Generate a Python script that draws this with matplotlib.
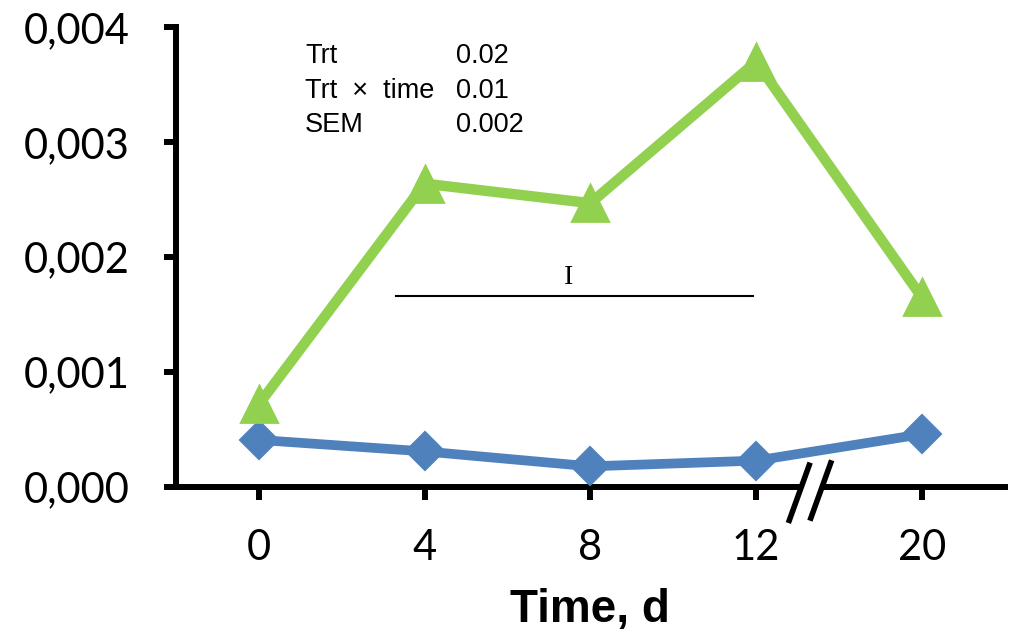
import matplotlib
matplotlib.use("Agg")
import matplotlib.pyplot as plt
from matplotlib.patches import Polygon

days = ['0', '4', '8', '12', '20']
green_vals = [0.00072, 0.00264, 0.00247, 0.00370, 0.00165]
blue_vals = [0.00041, 0.00031, 0.00018, 0.00023, 0.00046]
y_ticks = [0.0, 0.001, 0.002, 0.003, 0.004]
stats_names = ['Trt', 'Trt  ×  time', 'SEM']
stats_vals = ['0.02', '0.01', '0.002']

green = '#92D050'
blue = '#4F81BD'

fig = plt.figure(figsize=(10.17, 6.35), dpi=100)
ax = fig.add_axes([0.173, 0.233, 0.815, 0.724])

x = list(range(len(days)))
ax.plot(x, blue_vals, color=blue, lw=7, marker='D', ms=19.5,
        mec=blue, mew=1.5, solid_joinstyle='round', zorder=3)
ax.plot(x, green_vals, color=green, lw=7.5, marker='^', ms=26,
        mec=green, mew=2, solid_joinstyle='round', zorder=4)

ax.set_xlim(-0.5, 4.5)
ax.set_ylim(0, 0.004)
ax.set_xticks(x)
ax.set_xticklabels(days)
ax.set_yticks(y_ticks)
ax.set_yticklabels(['{:.3f}'.format(v).replace('.', ',') for v in y_ticks])

for s in ['top', 'right']:
    ax.spines[s].set_visible(False)
for s in ['left', 'bottom']:
    ax.spines[s].set_linewidth(4.3)
ax.tick_params(axis='both', width=4.3, length=9, labelsize=30, direction='out')
ax.tick_params(axis='y', pad=24)
ax.tick_params(axis='x', pad=21)
for lab in ax.get_xticklabels() + ax.get_yticklabels():
    lab.set_fontfamily('Lato')

ax.set_xlabel('Time, d', fontsize=33, fontweight='bold',
              fontfamily='Liberation Sans', labelpad=15)

# axis break on x between 12 and 20
brk = Polygon([(3.20, -0.00029), (3.32, 0.00019), (3.45, 0.00021), (3.33, -0.00027)],
              closed=True, facecolor='white', edgecolor='none', clip_on=False, zorder=5)
ax.add_patch(brk)
ax.plot([3.20, 3.32], [-0.00029, 0.00019], color='black', lw=4, clip_on=False, zorder=6)
ax.plot([3.33, 3.45], [-0.00027, 0.00021], color='black', lw=4, clip_on=False, zorder=6)

# significance bar
ax.plot([0.83, 2.98], [0.00166, 0.00166], color='black', lw=1.5, zorder=2)
ax.text(1.87, 0.00182, 'I', fontsize=20, fontfamily='Liberation Serif',
        ha='center', va='center')

# stats block
row_y = [0.003687, 0.003383, 0.003087]
for name, val, yy in zip(stats_names, stats_vals, row_y):
    ax.text(0.28, yy, name, fontsize=19.5, fontfamily='Liberation Sans', va='baseline')
    ax.text(1.19, yy, val, fontsize=19.5, fontfamily='Liberation Sans', va='baseline')

fig.savefig('out.png', dpi=100)
